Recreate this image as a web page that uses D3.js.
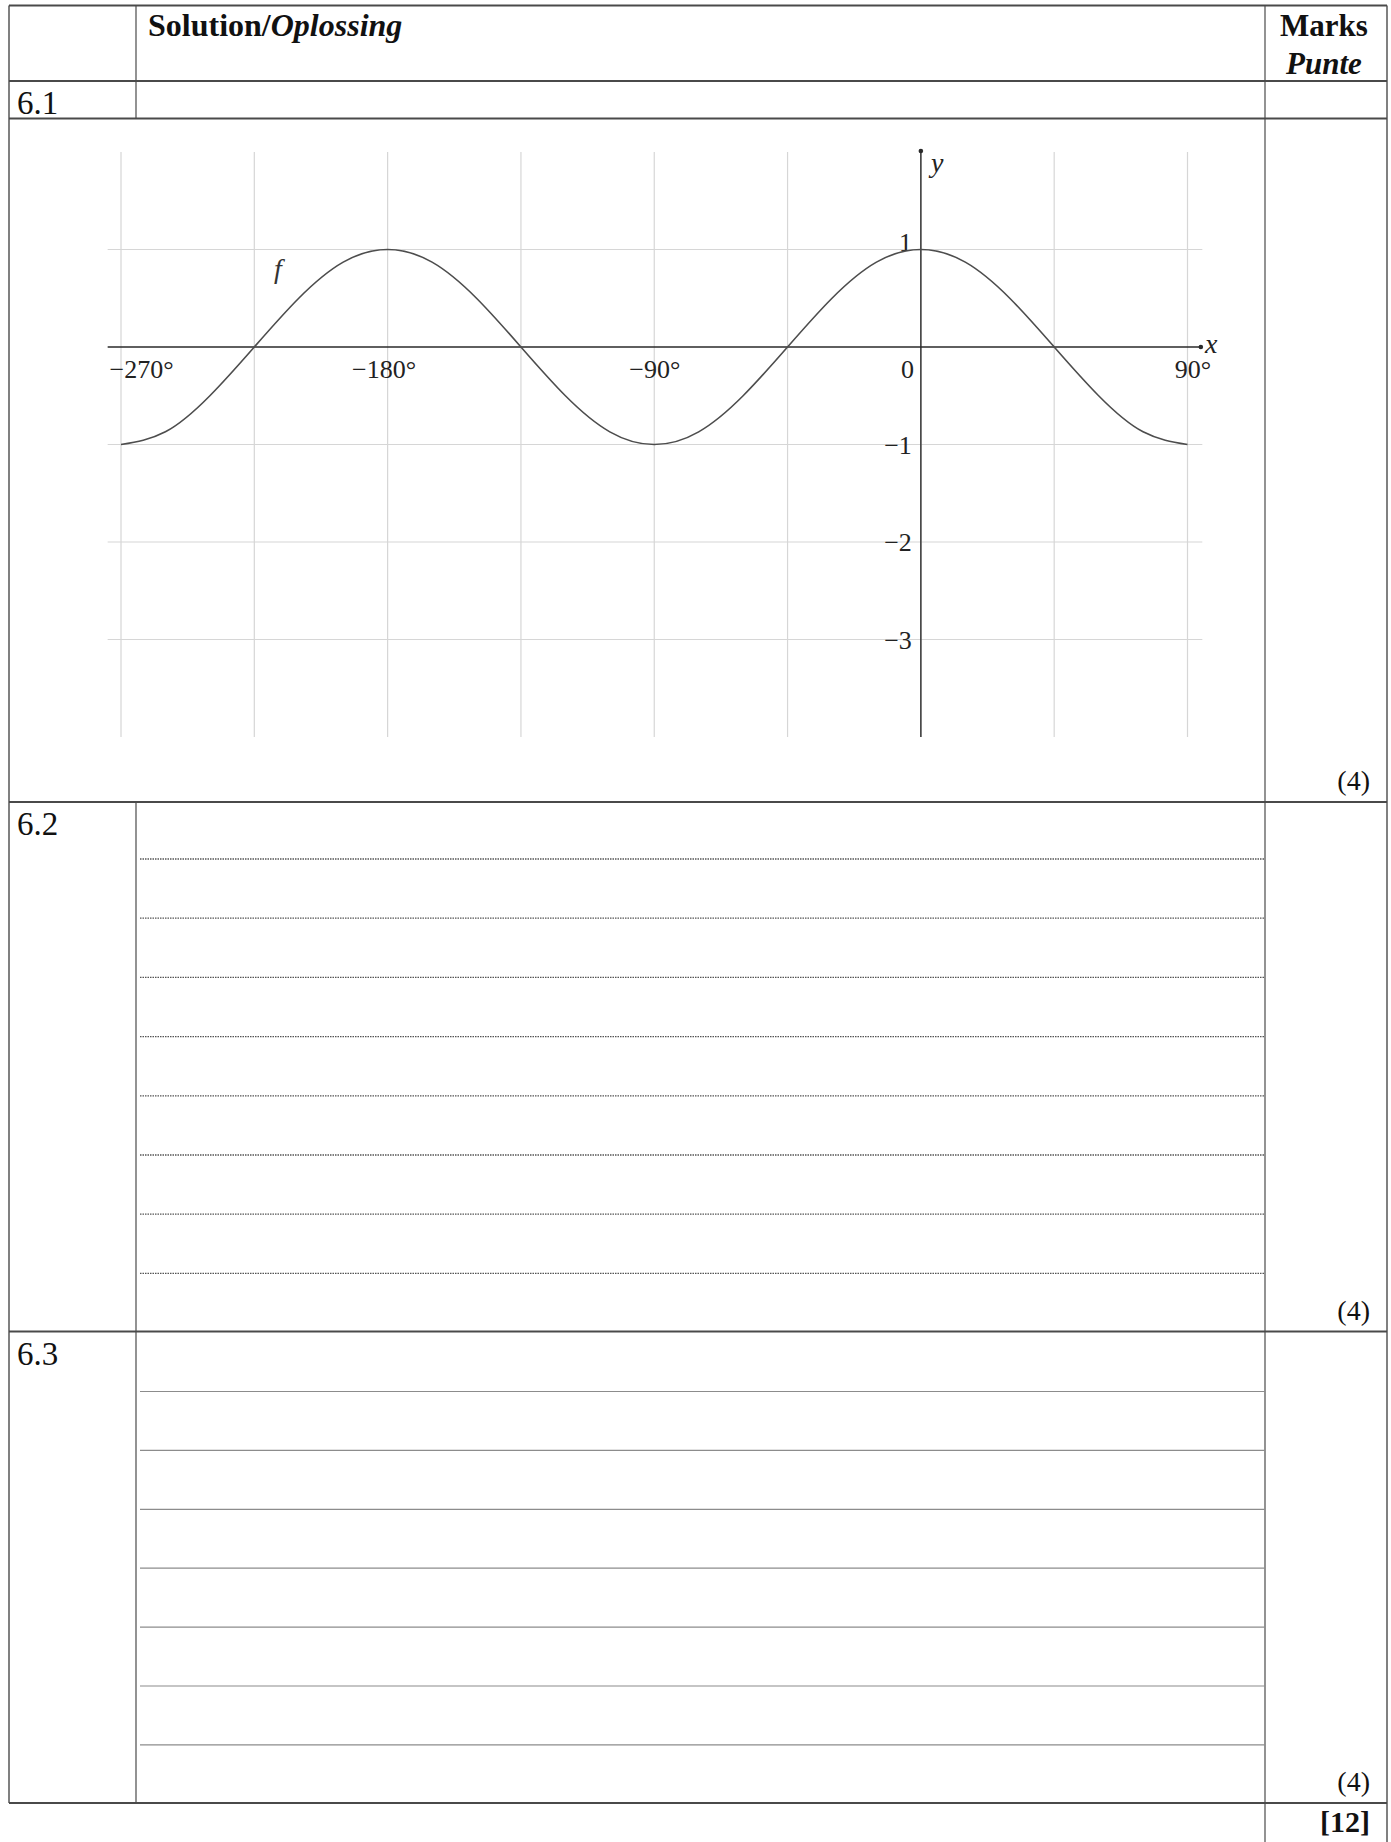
<!DOCTYPE html>
<html>
<head>
<meta charset="utf-8">
<script src="https://cdn.jsdelivr.net/npm/d3@7"></script>
<style>
body { margin: 0; background: #fff; }
svg { display: block; font-family: "Liberation Serif", "Times New Roman", serif; }
</style>
</head>
<body>
<svg id="page" width="1391" height="1842"></svg>
<script>
var angles  = [-270,-255,-240,-225,-210,-195,-180,-165,-150,-135,-120,-105,-90,
               -75,-60,-45,-30,-15,0,15,30,45,60,75,90];
var fValues = [-1,-0.87,-0.5,0,0.5,0.87,1,0.87,0.5,0,-0.5,-0.87,-1,
               -0.87,-0.5,0,0.5,0.87,1,0.87,0.5,0,-0.5,-0.87,-1];
var xGridVals   = [-270,-225,-180,-135,-90,-45,0,45,90];
var xTickVals   = [-270,-180,-90,0,90];
var xTickLabels = ["\u2212270°","\u2212180°","\u221290°","0","90°"];
var yGridVals   = [1,-1,-2,-3];
var yTickLabels = ["1","\u22121","\u22122","\u22123"];
var questions = ["6.1","6.2","6.3"];
var marks     = ["(4)","(4)","(4)"];
var total     = "[12]";

var SERIF = "Liberation Serif, Times New Roman, serif";
var svg = d3.select("#page");

// ---- table frame ----
var L = 9, C1 = 136, C2 = 1265, R = 1387;
var rowY = [5.5, 81, 118.5, 802, 1331.5, 1803];   // horizontal rules
var frame = svg.append("g").attr("stroke", "#4a4a4a").attr("fill", "none");

rowY.forEach(function(y){
    frame.append("line").attr("x1", L).attr("x2", R).attr("y1", y).attr("y2", y)
        .attr("stroke-width", 2);
});
frame.append("line").attr("x1", L).attr("x2", L).attr("y1", rowY[0]).attr("y2", rowY[5]).attr("stroke-width", 1.4);
frame.append("line").attr("x1", C1).attr("x2", C1).attr("y1", rowY[0]).attr("y2", rowY[2]).attr("stroke-width", 1.2);
frame.append("line").attr("x1", C1).attr("x2", C1).attr("y1", rowY[3]).attr("y2", rowY[5]).attr("stroke-width", 1.2);
frame.append("line").attr("x1", C2).attr("x2", C2).attr("y1", rowY[0]).attr("y2", 1842).attr("stroke-width", 1.2);
frame.append("line").attr("x1", R).attr("x2", R).attr("y1", rowY[0]).attr("y2", 1842).attr("stroke-width", 1.4);

// header
var head = svg.append("text").attr("x", 148).attr("y", 36)
    .attr("font-size", 32).attr("font-weight", "bold").attr("fill", "#111");
head.append("tspan").text("Solution/");
head.append("tspan").attr("font-style", "italic").text("Oplossing");

svg.append("text").attr("x", 1324).attr("y", 36).attr("text-anchor", "middle")
    .attr("font-size", 31).attr("font-weight", "bold").attr("fill", "#111").text("Marks");
svg.append("text").attr("x", 1324).attr("y", 74).attr("text-anchor", "middle")
    .attr("font-size", 31).attr("font-weight", "bold").attr("font-style", "italic")
    .attr("fill", "#111").text("Punte");

// question numbers (top of each block) and marks (bottom of each block)
var qTop = [rowY[1], rowY[3], rowY[4]];
var qBottom = [rowY[3], rowY[4], rowY[5]];
svg.selectAll("text.q").data(questions).enter().append("text")
    .attr("class", "q")
    .attr("x", 17)
    .attr("y", function(d, i){ return qTop[i] + 33; })
    .attr("font-size", 33).attr("fill", "#111")
    .text(function(d){ return d; });

svg.selectAll("text.m").data(marks).enter().append("text")
    .attr("class", "m")
    .attr("x", 1370)
    .attr("y", function(d, i){ return qBottom[i] - 12; })
    .attr("text-anchor", "end")
    .attr("font-size", 28).attr("fill", "#111")
    .text(function(d){ return d; });

svg.append("text").attr("x", 1370).attr("y", 1832).attr("text-anchor", "end")
    .attr("font-size", 30).attr("font-weight", "bold").attr("fill", "#111").text(total);

// answer lines 6.2 (dotted) and 6.3 (thin solid)
d3.range(8).forEach(function(i){
    var y = 859 + i * 59.2;
    svg.append("line").attr("x1", 140).attr("x2", C2).attr("y1", y).attr("y2", y)
        .attr("stroke", "#555").attr("stroke-width", 1.3).attr("stroke-dasharray", "1.5,1");
});
d3.range(7).forEach(function(i){
    var y = 1391.5 + i * 58.9;
    svg.append("line").attr("x1", 140).attr("x2", C2).attr("y1", y).attr("y2", y)
        .attr("stroke", "#8c8c8c").attr("stroke-width", 1.2);
});

// ---- graph of f ----
var x = d3.scaleLinear().domain([-270, 90]).range([121, 1187.5]);
var y = d3.scaleLinear().domain([-1, 1]).range([444.5, 249.5]);

var chart = svg.append("g");

// grid
chart.selectAll("line.vg").data(xGridVals).enter().append("line")
    .attr("class", "vg")
    .attr("x1", function(d){ return x(d); }).attr("x2", function(d){ return x(d); })
    .attr("y1", y(2)).attr("y2", y(-4))
    .attr("stroke", "#d6d6d6").attr("stroke-width", 1.2);
chart.selectAll("line.hg").data(yGridVals).enter().append("line")
    .attr("class", "hg")
    .attr("x1", x(-274.5)).attr("x2", x(95))
    .attr("y1", function(d){ return y(d); }).attr("y2", function(d){ return y(d); })
    .attr("stroke", "#d6d6d6").attr("stroke-width", 1.2);

// axes lines
chart.append("line").attr("x1", x(-274.5)).attr("x2", x(94.5)).attr("y1", y(0)).attr("y2", y(0))
    .attr("stroke", "#2a2a2a").attr("stroke-width", 1.4);
chart.append("line").attr("x1", x(0)).attr("x2", x(0)).attr("y1", y(2.01)).attr("y2", y(-4))
    .attr("stroke", "#2a2a2a").attr("stroke-width", 1.4);
chart.append("circle").attr("cx", x(94.5)).attr("cy", y(0)).attr("r", 2.3).attr("fill", "#2a2a2a");
chart.append("circle").attr("cx", x(0)).attr("cy", y(2.01)).attr("r", 2.3).attr("fill", "#2a2a2a");

// x tick labels
var labelDx = { "-270": 20, "-180": -4, "-90": 0, "0": -14, "90": 5 };
var xAxis = chart.append("g")
    .attr("transform", "translate(0," + y(0) + ")")
    .call(d3.axisBottom(x).tickValues(xTickVals).tickSize(0)
        .tickFormat(function(d, i){ return xTickLabels[i]; }));
xAxis.select(".domain").remove();
xAxis.attr("font-family", SERIF).attr("font-size", 26);
xAxis.selectAll("text")
    .attr("font-family", SERIF)
    .attr("y", 31).attr("dy", null)
    .attr("dx", function(d){ return labelDx[d]; })
    .attr("fill", "#222");

// y tick labels
var yAxis = chart.append("g")
    .attr("transform", "translate(" + x(0) + ",0)")
    .call(d3.axisLeft(y).tickValues(yGridVals).tickSize(0)
        .tickFormat(function(d, i){ return yTickLabels[i]; }));
yAxis.select(".domain").remove();
yAxis.attr("font-family", SERIF).attr("font-size", 26);
yAxis.selectAll("text")
    .attr("font-family", SERIF)
    .attr("x", -9)
    .attr("dy", function(d){ return d > 0 ? "0.03em" : "0.34em"; })
    .attr("fill", "#222");

// axis names
chart.append("text").attr("x", x(0) + 10).attr("y", 172).attr("font-size", 28)
    .attr("font-style", "italic").attr("fill", "#222").text("y");
chart.append("text").attr("x", 1205).attr("y", 353).attr("font-size", 28)
    .attr("font-style", "italic").attr("fill", "#222").text("x");

// the curve
var pts = angles.map(function(a, i){ return [a, fValues[i]]; });
var line = d3.line()
    .x(function(d){ return x(d[0]); })
    .y(function(d){ return y(d[1]); })
    .curve(d3.curveNatural);
chart.append("path").datum(pts)
    .attr("d", line)
    .attr("fill", "none")
    .attr("stroke", "#4d4d4d")
    .attr("stroke-width", 1.6);

chart.append("text").attr("x", 274).attr("y", 278).attr("font-size", 28)
    .attr("font-style", "italic").attr("fill", "#333").text("f");
</script>
</body>
</html>
